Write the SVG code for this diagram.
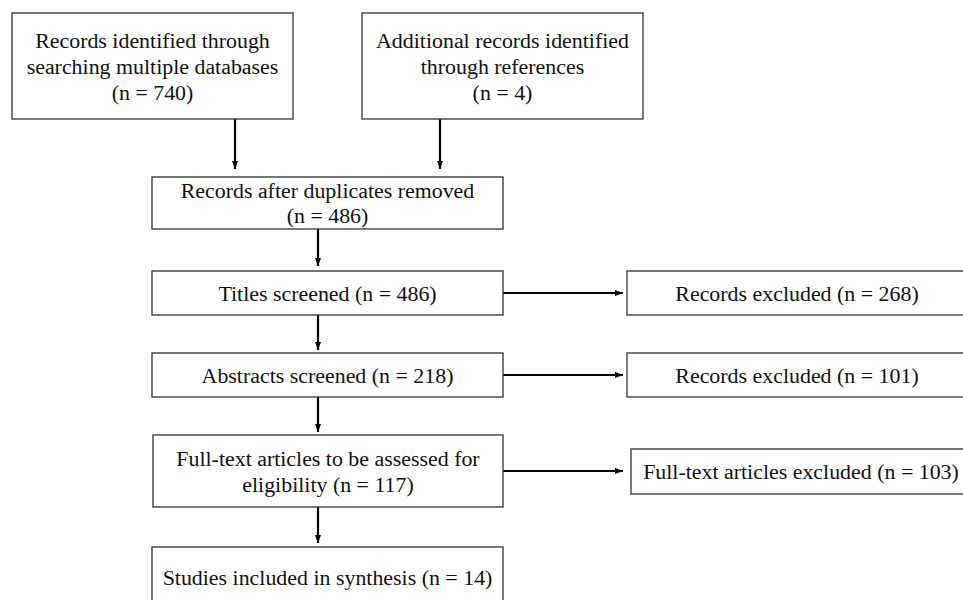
<svg xmlns="http://www.w3.org/2000/svg" width="963" height="600" viewBox="0 0 963 600">
<defs>
<marker id="ah" markerWidth="8" markerHeight="6" refX="8" refY="3" orient="auto" markerUnits="userSpaceOnUse">
<path d="M0,0 L8,3 L0,6 Z" fill="#000"/>
</marker>
<style>
.box{fill:#fff;stroke:#404040;stroke-width:1.4}
.t{font-family:"Liberation Serif","Times New Roman",serif;font-size:21.9px;fill:#111;text-anchor:middle}
.c{stroke:#000;stroke-width:2.2;fill:none;marker-end:url(#ah)}
</style>
</defs>
<rect width="963" height="600" fill="#fff"/>
<g id="connectors">
<line class="c" x1="235" y1="119" x2="235" y2="169"/>
<line class="c" x1="440" y1="119" x2="440" y2="169"/>
<line class="c" x1="318" y1="229" x2="318" y2="266"/>
<line class="c" x1="318" y1="315" x2="318" y2="350"/>
<line class="c" x1="318" y1="397" x2="318" y2="432"/>
<line class="c" x1="318" y1="507" x2="318" y2="543"/>
<line class="c" x1="503" y1="293" x2="623" y2="293"/>
<line class="c" x1="503" y1="375" x2="623" y2="375"/>
<line class="c" x1="503" y1="471" x2="623" y2="471"/>
</g>
<g id="n1">
<rect class="box" x="12" y="13" width="281" height="106"/>
<text class="t" x="152.5" y="48">Records identified through</text>
<text class="t" x="152.5" y="74">searching multiple databases</text>
<text class="t" x="152.5" y="100">(n = 740)</text>
</g>
<g id="n2">
<rect class="box" x="362" y="13" width="281" height="106"/>
<text class="t" x="502.5" y="48">Additional records identified</text>
<text class="t" x="502.5" y="74">through references</text>
<text class="t" x="502.5" y="100">(n = 4)</text>
</g>
<g id="n3">
<rect class="box" x="152" y="177" width="351" height="52"/>
<text class="t" x="327.5" y="198">Records after duplicates removed</text>
<text class="t" x="327.5" y="223">(n = 486)</text>
</g>
<g id="n4">
<rect class="box" x="152" y="271" width="351" height="44"/>
<text class="t" x="327.5" y="301">Titles screened (n = 486)</text>
</g>
<g id="n5">
<rect class="box" x="627" y="271" width="345" height="44"/>
<text class="t" x="797" y="301">Records excluded (n = 268)</text>
</g>
<g id="n6">
<rect class="box" x="152" y="353" width="351" height="44"/>
<text class="t" x="327.5" y="383">Abstracts screened (n = 218)</text>
</g>
<g id="n7">
<rect class="box" x="627" y="353" width="345" height="44"/>
<text class="t" x="797" y="383">Records excluded (n = 101)</text>
</g>
<g id="n8">
<rect class="box" x="153" y="435" width="350" height="72"/>
<text class="t" x="328" y="466">Full-text articles to be assessed for</text>
<text class="t" x="328" y="492">eligibility  (n = 117)</text>
</g>
<g id="n9">
<rect class="box" x="631" y="449" width="340" height="45"/>
<text class="t" x="801" y="479">Full-text articles excluded (n = 103)</text>
</g>
<g id="n10">
<rect class="box" x="152" y="547" width="351" height="60"/>
<text class="t" x="327.5" y="585">Studies included in synthesis (n = 14)</text>
</g>
</svg>
